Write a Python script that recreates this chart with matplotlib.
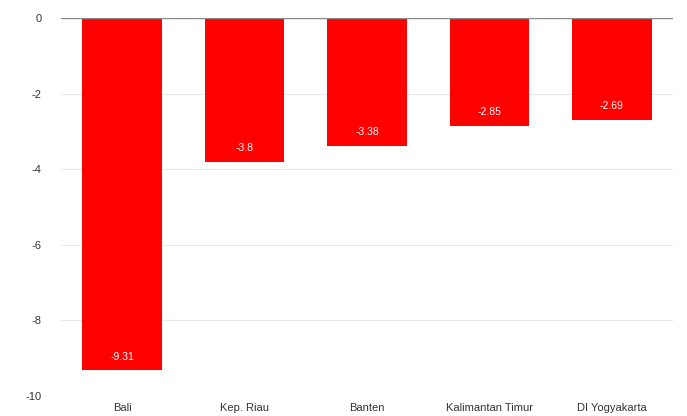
import numpy as np
import matplotlib.pyplot as plt

provinces = ['Bali', 'Kep. Riau', 'Banten', 'Kalimantan Timur', 'DI Yogyakarta']
growth = [-9.31, -3.8, -3.38, -2.85, -2.69]
yticks = [0, -2, -4, -6, -8, -10]

plt.rcParams['font.family'] = ['Liberation Sans', 'DejaVu Sans']

fig = plt.figure(figsize=(6.87, 4.16), dpi=100)
ax = fig.add_axes([0.0888, 0.048, 0.8908, 0.909])

x = np.arange(len(provinces))
bars = ax.bar(x, growth, width=0.65, color='#ff0000', zorder=2)

# value labels inside bar ends
for xi, v in zip(x, growth):
    ax.text(xi, v + 0.35, str(v), ha='center', va='center',
            color='white', fontsize=7.5, zorder=3)

ax.set_xlim(-0.5, 4.5)
ax.set_ylim(-10, 0)
ax.set_yticks(yticks)
ax.set_yticklabels([str(t) for t in yticks])
ax.set_xticks(x)
ax.set_xticklabels(provinces)

ax.grid(axis='y', color='#e8e8e8', linewidth=0.8, zorder=0)
ax.axhline(0, color='#888888', linewidth=1, zorder=3)
for s in ax.spines.values():
    s.set_visible(False)
ax.tick_params(axis='both', length=0, labelsize=8, colors='#333333')
ax.tick_params(axis='y', pad=14)
ax.tick_params(axis='x', pad=5)

plt.savefig('out.png')
plt.close()
